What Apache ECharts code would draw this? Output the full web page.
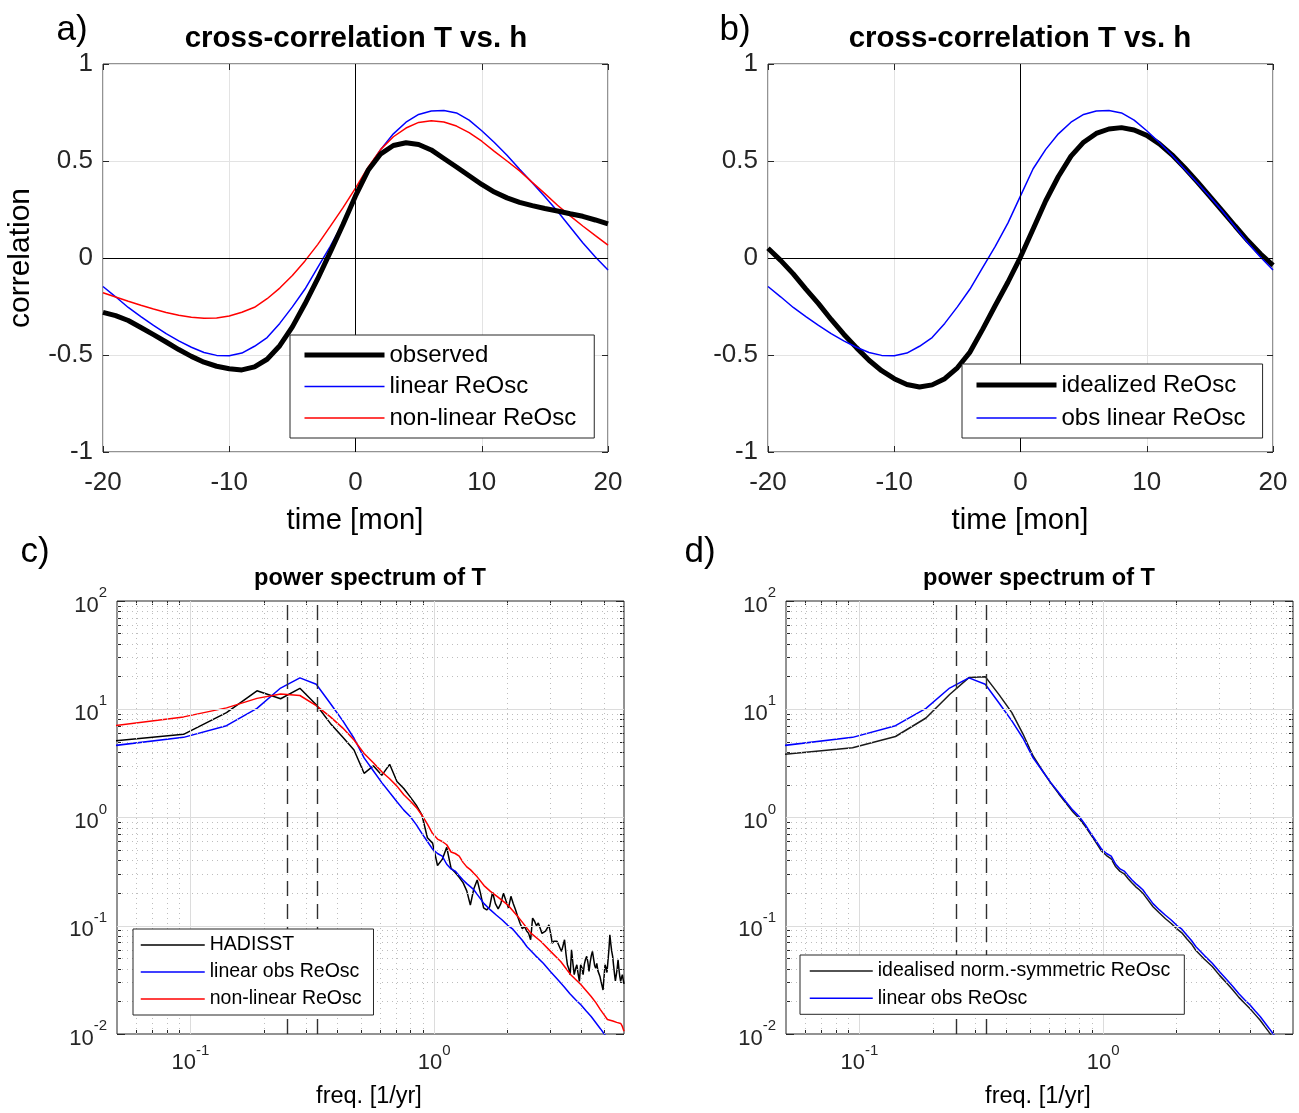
<!DOCTYPE html>
<html><head><meta charset="utf-8">
<script src="https://cdn.jsdelivr.net/npm/echarts@6/dist/echarts.min.js"></script>
<style>html,body{margin:0;padding:0;background:#fff}#c{width:1299px;height:1113px}</style>
</head><body><div id="c"></div>
<script>
// ---------------- data: cross-correlation (panels a, b) ----------------
const lagMonths = [-20,-19,-18,-17,-16,-15,-14,-13,-12,-11,-10,-9,-8,-7,-6,-5,-4,-3,-2,-1,0,1,2,3,4,5,6,7,8,9,10,11,12,13,14,15,16,17,18,19,20];
const obsCorr = [-0.28,-0.297,-0.322,-0.358,-0.395,-0.433,-0.472,-0.507,-0.537,-0.558,-0.571,-0.577,-0.561,-0.522,-0.452,-0.355,-0.236,-0.108,0.03,0.171,0.32,0.452,0.537,0.58,0.594,0.585,0.557,0.513,0.469,0.424,0.379,0.34,0.31,0.287,0.27,0.255,0.242,0.228,0.215,0.196,0.176];
const linCorr = [-0.147,-0.2,-0.255,-0.302,-0.347,-0.39,-0.427,-0.46,-0.487,-0.502,-0.504,-0.49,-0.455,-0.41,-0.337,-0.252,-0.16,-0.05,0.06,0.18,0.32,0.46,0.56,0.64,0.7,0.74,0.758,0.76,0.748,0.711,0.656,0.595,0.53,0.457,0.388,0.316,0.241,0.16,0.079,0.005,-0.062];
const nonlinCorr = [-0.179,-0.201,-0.223,-0.244,-0.263,-0.281,-0.295,-0.305,-0.31,-0.309,-0.299,-0.28,-0.254,-0.21,-0.155,-0.09,-0.015,0.069,0.163,0.258,0.36,0.468,0.56,0.625,0.67,0.699,0.708,0.701,0.68,0.646,0.602,0.55,0.5,0.449,0.39,0.332,0.272,0.217,0.165,0.115,0.066];
const idealCorr = [0.05,-0.012,-0.082,-0.16,-0.235,-0.317,-0.393,-0.462,-0.527,-0.581,-0.622,-0.652,-0.665,-0.654,-0.622,-0.566,-0.485,-0.368,-0.245,-0.125,0.005,0.15,0.295,0.42,0.525,0.597,0.642,0.665,0.672,0.66,0.632,0.588,0.532,0.465,0.393,0.318,0.242,0.165,0.09,0.022,-0.038];
const lagTicks = [-20,-10,0,10,20];
const corrTicks = [-1,-0.5,0,0.5,1];

// ---------------- data: power spectra (panels c, d) [freq 1/yr, power] ----------------
const hadisstSpec = [[0.046875,5.05],[0.09375,5.87],[0.140625,9.3],[0.1875,14.8],[0.234375,12.5],[0.28125,15.6],[0.328125,11.0],[0.375,7.4],[0.421875,5.5],[0.46875,4.2],[0.515625,2.56],[0.5625,3.0],[0.609375,2.45],[0.65625,3.1],[0.703125,2.15],[0.75,1.85],[0.796875,1.55],[0.84375,1.3],[0.890625,1.05],[0.9375,0.65],[0.984375,0.58],[1.03125,0.36],[1.078125,0.41],[1.125,0.53],[1.171875,0.34],[1.21875,0.31],[1.265625,0.28],[1.3125,0.25],[1.359375,0.21],[1.40625,0.155],[1.453125,0.22],[1.5,0.265],[1.546875,0.2],[1.59375,0.146],[1.640625,0.14],[1.6875,0.15],[1.734375,0.204],[1.78125,0.16],[1.828125,0.143],[1.875,0.16],[1.921875,0.2],[1.96875,0.17],[2.015625,0.146],[2.0625,0.187],[2.109375,0.16],[2.15625,0.14],[2.203125,0.12],[2.25,0.105],[2.296875,0.094],[2.34375,0.0986],[2.390625,0.09],[2.4375,0.085],[2.484375,0.0743],[2.53125,0.1176],[2.578125,0.11],[2.625,0.1],[2.671875,0.106],[2.71875,0.095],[2.765625,0.085],[2.8125,0.083],[2.859375,0.089],[2.90625,0.095],[2.953125,0.102],[3.0,0.085],[3.046875,0.069],[3.09375,0.072],[3.140625,0.0743],[3.1875,0.072],[3.234375,0.0668],[3.28125,0.062],[3.328125,0.058],[3.375,0.06],[3.421875,0.0743],[3.46875,0.055],[3.515625,0.0436],[3.5625,0.04],[3.609375,0.0353],[3.65625,0.06],[3.703125,0.045],[3.75,0.0353],[3.796875,0.04],[3.84375,0.0436],[3.890625,0.036],[3.9375,0.0306],[3.984375,0.0436],[4.03125,0.041],[4.078125,0.0353],[4.125,0.044],[4.171875,0.049],[4.21875,0.0521],[4.265625,0.046],[4.3125,0.0379],[4.359375,0.046],[4.40625,0.053],[4.453125,0.058],[4.5,0.05],[4.546875,0.043],[4.59375,0.0406],[4.640625,0.045],[4.6875,0.0385],[4.734375,0.0379],[4.78125,0.034],[4.828125,0.0306],[4.875,0.028],[4.921875,0.0255],[4.96875,0.0247],[5.015625,0.0436],[5.0625,0.041],[5.109375,0.037],[5.15625,0.0379],[5.203125,0.06],[5.25,0.0826],[5.296875,0.068],[5.34375,0.058],[5.390625,0.0521],[5.4375,0.043],[5.484375,0.036],[5.53125,0.031],[5.578125,0.0306],[5.625,0.04],[5.671875,0.0485],[5.71875,0.04],[5.765625,0.034],[5.8125,0.0306],[5.859375,0.033],[5.90625,0.0353],[5.953125,0.032],[6.0,0.029]];
const linSpec = [[0.046875,4.57],[0.09375,5.5],[0.140625,7.05],[0.1875,10.2],[0.234375,15.7],[0.28125,19.5],[0.328125,17.0],[0.375,11.3],[0.421875,7.8],[0.46875,5.4],[0.515625,3.55],[0.5625,2.7],[0.609375,2.1],[0.65625,1.7],[0.703125,1.4],[0.75,1.17],[0.796875,1.02],[0.84375,0.86],[0.890625,0.71],[0.9375,0.6],[0.984375,0.51],[1.03125,0.465],[1.078125,0.44],[1.125,0.37],[1.171875,0.335],[1.21875,0.32],[1.265625,0.29],[1.3125,0.265],[1.359375,0.245],[1.40625,0.23],[1.453125,0.215],[1.5,0.195],[1.6,0.16],[1.7,0.14],[1.8,0.125],[1.9,0.113],[2.0,0.101],[2.1,0.093],[2.2,0.082],[2.3,0.073],[2.4,0.064],[2.6,0.053],[2.8,0.045],[3.0,0.0375],[3.2,0.032],[3.4,0.0275],[3.6,0.0235],[3.8,0.0207],[4.0,0.0185],[4.2,0.0163],[4.4,0.0145],[4.6,0.0127],[4.8,0.0112],[5.0,0.0099],[5.5,0.0079],[6.0,0.0063]];
const nonlinSpec = [[0.046875,6.95],[0.09375,8.5],[0.140625,10.3],[0.1875,12.6],[0.234375,13.8],[0.28125,13.4],[0.328125,10.8],[0.375,8.5],[0.421875,6.7],[0.46875,5.2],[0.515625,3.9],[0.5625,3.2],[0.609375,2.65],[0.65625,2.28],[0.703125,1.95],[0.75,1.62],[0.796875,1.42],[0.84375,1.24],[0.890625,1.05],[0.9375,0.87],[0.984375,0.71],[1.03125,0.632],[1.078125,0.6],[1.125,0.56],[1.171875,0.48],[1.21875,0.465],[1.265625,0.44],[1.3125,0.385],[1.359375,0.35],[1.40625,0.33],[1.453125,0.305],[1.5,0.283],[1.6,0.235],[1.7,0.208],[1.82,0.185],[2.0,0.156],[2.2,0.122],[2.49,0.0855],[2.74,0.0716],[3.0,0.058],[3.3,0.0468],[3.63,0.0353],[4.0,0.0285],[4.4,0.0222],[4.6,0.0195],[4.8,0.0168],[5.0,0.0148],[5.13,0.0136],[5.4,0.0132],[5.6,0.0128],[5.82,0.0125],[5.9,0.0118],[6.0,0.0106]];
const idealSpec = [[0.046875,3.8],[0.09375,4.4],[0.140625,5.6],[0.1875,8.3],[0.234375,13.7],[0.28125,19.6],[0.328125,20.0],[0.375,13.5],[0.421875,9.3],[0.46875,5.9],[0.515625,3.7],[0.5625,2.72],[0.609375,2.08],[0.65625,1.66],[0.703125,1.36],[0.75,1.13],[0.796875,0.98],[0.84375,0.83],[0.890625,0.69],[0.9375,0.58],[0.984375,0.49],[1.03125,0.445],[1.078125,0.415],[1.125,0.35],[1.171875,0.318],[1.21875,0.302],[1.265625,0.272],[1.3125,0.248],[1.359375,0.229],[1.40625,0.215],[1.453125,0.2],[1.5,0.182],[1.6,0.15],[1.7,0.131],[1.8,0.116],[1.9,0.105],[2.0,0.094],[2.1,0.086],[2.2,0.076],[2.3,0.068],[2.4,0.059],[2.6,0.049],[2.8,0.042],[3.0,0.0348],[3.2,0.0297],[3.4,0.0255],[3.6,0.0218],[3.8,0.0192],[4.0,0.0171],[4.2,0.0151],[4.4,0.0134],[4.6,0.0117],[4.8,0.0103],[5.0,0.0091],[5.5,0.0073],[6.0,0.0058]];
const refFreqs = [0.25, 1/3];           // 4-yr and 3-yr periods (dashed)
const freqRange = [0.05, 6];
const powerRange = [0.01, 100];
const freqMajor = [0.1, 1];
const powerMajor = [0.01, 0.1, 1, 10, 100];

// ---------------- layout / style ----------------
const FONT = '"Liberation Sans", Arial, Helvetica, sans-serif';
const AX = '#262626';
const grids = [
  {left:103, top:64, width:505, height:388, show:true, borderColor:AX, borderWidth:1},
  {left:768, top:64, width:505, height:388, show:true, borderColor:AX, borderWidth:1},
  {left:117, top:601, width:507, height:433, show:true, borderColor:AX, borderWidth:1},
  {left:786, top:601, width:507, height:433, show:true, borderColor:AX, borderWidth:1}
];
function minorValues(lo, hi) {
  const out = [];
  for (let e = Math.floor(Math.log10(lo)); e <= Math.ceil(Math.log10(hi)); e++) {
    for (let m = 2; m <= 9; m++) {
      const v = +(m * Math.pow(10, e)).toPrecision(3);
      if (v > lo * 1.0001 && v < hi * 0.9999) out.push(v);
    }
  }
  return out;
}
const freqMinor = minorValues(freqRange[0], freqRange[1]);
const powerMinor = minorValues(powerRange[0], powerRange[1]);

const xAxes = [], yAxes = [];
const tick = (len) => ({show:true, inside:true, length:len, lineStyle:{color:AX, width:1}});
const noLine = {show:false, onZero:false};

function corrAxes(g) {
  const base = {type:'value', gridIndex:g, min:-20, max:20, interval:10, axisLine:noLine};
  xAxes.push(Object.assign({}, base, {position:'bottom', axisTick:tick(6),
    axisLabel:{margin:18, fontSize:26, color:AX, fontFamily:FONT},
    splitLine:{show:true, lineStyle:{color:'#e3e3e3', width:1}}}));
  const xi = xAxes.length - 1;
  xAxes.push(Object.assign({}, base, {position:'top', axisTick:tick(6), axisLabel:{show:false}, splitLine:{show:false}}));
  const ybase = {type:'value', gridIndex:g, min:-1, max:1, interval:0.5, axisLine:noLine};
  yAxes.push(Object.assign({}, ybase, {position:'left', axisTick:tick(6),
    axisLabel:{margin:10, fontSize:26, color:AX, fontFamily:FONT},
    splitLine:{show:true, lineStyle:{color:'#e3e3e3', width:1}}}));
  const yi = yAxes.length - 1;
  yAxes.push(Object.assign({}, ybase, {position:'right', axisTick:tick(6), axisLabel:{show:false}, splitLine:{show:false}}));
  return [xi, yi];
}
const powFmt = (v) => '{b|10}{s|' + Math.round(Math.log10(v)) + '}';
const powRich = {
  b:{fontSize:22, fontFamily:FONT, color:AX, verticalAlign:'bottom', lineHeight:31},
  s:{fontSize:15, fontFamily:FONT, color:AX, verticalAlign:'top', lineHeight:31}
};
function specAxes(g) {
  const xb = {type:'log', logBase:10, gridIndex:g, min:freqRange[0], max:freqRange[1], axisLine:noLine, splitLine:{show:false}};
  xAxes.push(Object.assign({}, xb, {position:'bottom', axisTick:Object.assign(tick(8), {customValues:freqMajor}),
    axisLabel:{margin:9, customValues:freqMajor, formatter:powFmt, rich:powRich}}));
  const xi = xAxes.length - 1;
  xAxes.push(Object.assign({}, xb, {position:'bottom', axisTick:Object.assign(tick(4), {customValues:freqMinor}), axisLabel:{show:false}}));
  xAxes.push(Object.assign({}, xb, {position:'top', axisTick:Object.assign(tick(8), {customValues:freqMajor}), axisLabel:{show:false}}));
  xAxes.push(Object.assign({}, xb, {position:'top', axisTick:Object.assign(tick(4), {customValues:freqMinor}), axisLabel:{show:false}}));
  const yb = {type:'log', logBase:10, gridIndex:g, min:powerRange[0], max:powerRange[1], axisLine:noLine, splitLine:{show:false}};
  yAxes.push(Object.assign({}, yb, {position:'left', axisTick:Object.assign(tick(8), {customValues:powerMajor}),
    axisLabel:{margin:10, customValues:powerMajor, formatter:powFmt, rich:powRich}}));
  const yi = yAxes.length - 1;
  yAxes.push(Object.assign({}, yb, {position:'left', axisTick:Object.assign(tick(4), {customValues:powerMinor}), axisLabel:{show:false}}));
  yAxes.push(Object.assign({}, yb, {position:'right', axisTick:Object.assign(tick(8), {customValues:powerMajor}), axisLabel:{show:false}}));
  yAxes.push(Object.assign({}, yb, {position:'right', axisTick:Object.assign(tick(4), {customValues:powerMinor}), axisLabel:{show:false}}));
  return [xi, yi];
}
const A = corrAxes(0), B = corrAxes(1), C = specAxes(2), D = specAxes(3);

const zip = (xs, ys) => xs.map((x, i) => [x, ys[i]]);
function line(name, ax, data, color, width, z) {
  return {type:'line', name, xAxisIndex:ax[0], yAxisIndex:ax[1], data, symbol:'none', showSymbol:false,
    lineStyle:{color, width}, itemStyle:{color}, z: z || 3, clip:true, silent:true};
}
function zeroLines(ax) {
  return {type:'line', xAxisIndex:ax[0], yAxisIndex:ax[1], data:[[0,0]], symbol:'none', silent:true, z:2,
    lineStyle:{opacity:0},
    markLine:{silent:true, symbol:['none','none'], label:{show:false}, animation:false,
      lineStyle:{color:'#000', width:1, type:'solid'},
      data:[{xAxis:0}, {yAxis:0}]}};
}
function specGrid(ax) {
  const major = {color:'#dcdcdc', width:1, type:'solid'};
  const minor = {color:'#bdbdbd', width:1, type:[1,4]};
  const dash = {color:'#303030', width:1.4, type:[15,8]};
  const d = [];
  freqMajor.forEach(v => d.push({xAxis:v, lineStyle:major}));
  powerMajor.slice(1, -1).forEach(v => d.push({yAxis:v, lineStyle:major}));
  freqMinor.forEach(v => d.push({xAxis:v, lineStyle:minor}));
  powerMinor.forEach(v => d.push({yAxis:v, lineStyle:minor}));
  refFreqs.forEach(v => d.push({xAxis:v, lineStyle:dash}));
  return {type:'line', xAxisIndex:ax[0], yAxisIndex:ax[1], data:[[1,1]], symbol:'none', silent:true, z:1,
    lineStyle:{opacity:0},
    markLine:{silent:true, symbol:['none','none'], label:{show:false}, animation:false, data:d}};
}

const series = [
  zeroLines(A),
  line('observed', A, zip(lagMonths, obsCorr), '#000000', 5, 4),
  line('linear ReOsc', A, zip(lagMonths, linCorr), '#0000ff', 1.5),
  line('non-linear ReOsc', A, zip(lagMonths, nonlinCorr), '#ff0000', 1.5),
  zeroLines(B),
  line('idealized ReOsc', B, zip(lagMonths, idealCorr), '#000000', 5, 3),
  line('obs linear ReOsc', B, zip(lagMonths, linCorr), '#0000ff', 1.5, 4),
  specGrid(C),
  line('HADISST', C, hadisstSpec, '#000000', 1.5),
  line('linear obs ReOsc', C, linSpec, '#0000ff', 1.5),
  line('non-linear ReOsc', C, nonlinSpec, '#ff0000', 1.5),
  specGrid(D),
  line('idealised norm.-symmetric ReOsc', D, idealSpec, '#1a1a1a', 1.5),
  line('linear obs ReOsc', D, linSpec, '#0000ff', 1.5)
];

function legend(items, left, top, padding, itemWidth, gap, fontSize) {
  const data = items.map(([name, color, width]) => ({name, itemStyle:{opacity:0, color, borderWidth:0},
    lineStyle:{color, width, opacity:1}}));
  return {data, orient:'vertical', left, top, padding, itemWidth, itemHeight:14, itemGap:gap,
    backgroundColor:'#ffffff', borderColor:AX, borderWidth:1, borderRadius:0, selectedMode:false,
    itemStyle:{opacity:0},
    textStyle:{fontSize, fontFamily:FONT, color:'#000', lineHeight:fontSize}, z:10};
}
const legends = [
  legend([['observed','#000',5],['linear ReOsc','#0000ff',1.5],['non-linear ReOsc','#ff0000',1.5]], 290, 335, [8,18,8,12], 80, 7.5, 24),
  legend([['idealized ReOsc','#000',5],['obs linear ReOsc','#0000ff',1.5]], 962, 364, [9,17,8,12], 80, 9, 24),
  legend([['HADISST','#000',1.5],['linear obs ReOsc','#0000ff',1.5],['non-linear ReOsc','#ff0000',1.5]], 133, 929, [6,12,6,7], 64, 7, 19.5),
  legend([['idealised norm.-symmetric ReOsc','#1a1a1a',1.5],['linear obs ReOsc','#0000ff',1.5]], 800, 955, [6,14,6,9], 63, 7.3, 19.5)
];

const txt = (text, x, y, size, weight, extra) => Object.assign({type:'text', x, y, silent:true, z:20,
  style:{text, font: (weight||'normal') + ' ' + size + 'px ' + FONT, fill:'#000', textAlign:'center', textVerticalAlign:'middle'}}, extra || {});
const graphics = [
  txt('a)', 72, 30, 35), txt('b)', 735, 30, 35), txt('c)', 35, 552, 35), txt('d)', 700, 552, 35),
  txt('cross-correlation T vs. h', 356, 39, 29.5, 'bold'),
  txt('cross-correlation T vs. h', 1020, 39, 29.5, 'bold'),
  txt('power spectrum of T', 370, 578, 23.6, 'bold'),
  txt('power spectrum of T', 1039, 578, 23.6, 'bold'),
  txt('time [mon]', 355, 521, 29.3),
  txt('time [mon]', 1020, 521, 29.3),
  txt('freq. [1/yr]', 369, 1097, 23.5),
  txt('freq. [1/yr]', 1038, 1097, 23.5),
  txt('correlation', 21, 258, 30, 'normal', {rotation: Math.PI / 2})
];

const chart = echarts.init(document.getElementById('c'), null, {renderer:'canvas'});
chart.setOption({
  animation:false,
  backgroundColor:'#ffffff',
  grid: grids,
  xAxis: xAxes,
  yAxis: yAxes,
  legend: legends,
  series,
  graphic: graphics
});
</script></body></html>
